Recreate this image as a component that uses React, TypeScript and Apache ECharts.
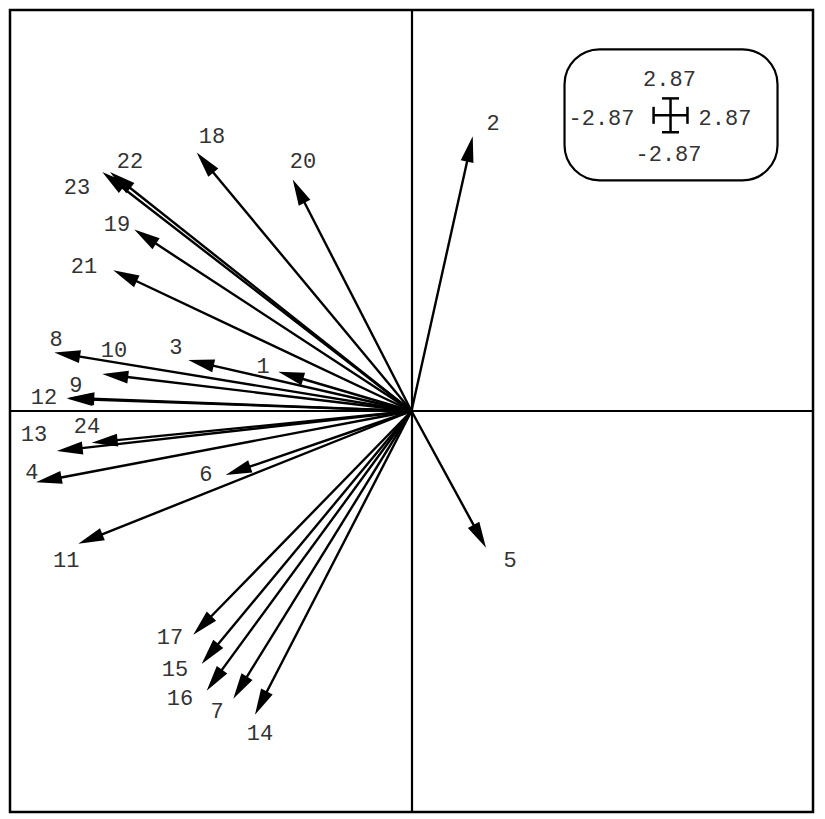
import React, { useEffect, useRef } from "react";
import * as echarts from "echarts";

// Variable names
const variables = [
  "1", "2", "3", "4", "5", "6", "7", "8", "9", "10", "11", "12",
  "13", "14", "15", "16", "17", "18", "19", "20", "21", "22", "23", "24",
];

// Arrow tips (coordinates of each variable)
const tipX = [
  -22.56, 10.37, -37.8, -63.6, 12.62, -31.47, -30.18, -60.5, -58.13, -52.37, -56.44, -58.4,
  -60.08, -26.51, -35.54, -34.69, -36.96, -36.38, -46.95, -20.12, -50.51, -51.07, -52.37, -54.17,
];
const tipY = [
  6.66, 46.58, 8.64, -12.08, -23.2, -10.84, -48.78, 9.94, 2.25, 6.27, -22.53, 2.1,
  -6.77, -51.49, -42.9, -47.43, -37.94, 43.82, 30.78, 39.24, 23.88, 40.53, 40.53, -5.37,
];

// Label anchor positions
const labelX = [
  -25.15, 13.8, -39.89, -64.28, 16.68, -34.81, -32.94, -60.21, -56.83, -50.39, -58.49, -62.25,
  -63.93, -25.66, -40.06, -39.21, -40.91, -33.79, -49.88, -18.38, -55.47, -47.68, -56.65, -54.96,
];
const labelY = [
  7.45, 48.61, 10.67, -10.67, -25.58, -11.01, -51.15, 12.03, 4.07, 10.16, -25.58, 2.2,
  -4.23, -54.88, -44.04, -48.95, -38.62, 46.41, 31.5, 42.17, 24.39, 42.17, 37.77, -2.88,
];

// Scale legend
const scaleValue = 2.87;
const scaleCenter = [43.87, 50.14];
const axisMin = -68;
const axisMax = 68;

const FONT = "22px 'Liberation Mono', 'DejaVu Sans Mono', monospace";

export default function App() {
  const ref = useRef<HTMLDivElement>(null);

  useEffect(() => {
    if (!ref.current) return;
    const chart = echarts.init(ref.current, undefined, { renderer: "svg" });

    const arrowData = variables.map((name, i) => ({ name, value: [tipX[i], tipY[i]] }));
    const labelData = variables.map((name, i) => ({ name, value: [labelX[i], labelY[i]] }));

    const option: any = {
      animation: false,
      backgroundColor: "#fff",
      grid: {
        left: 10,
        top: 10,
        right: 12,
        bottom: 7,
        show: true,
        borderColor: "#000",
        borderWidth: 2.5,
        backgroundColor: "transparent",
      },
      xAxis: {
        type: "value",
        min: axisMin,
        max: axisMax,
        axisLine: { show: true, onZero: true, lineStyle: { color: "#000", width: 2.2 } },
        axisTick: { show: false },
        axisLabel: { show: false },
        splitLine: { show: false },
      },
      yAxis: {
        type: "value",
        min: axisMin,
        max: axisMax,
        axisLine: { show: true, onZero: true, lineStyle: { color: "#000", width: 2.2 } },
        axisTick: { show: false },
        axisLabel: { show: false },
        splitLine: { show: false },
      },
      series: [
        {
          type: "custom",
          name: "arrows",
          data: arrowData,
          renderItem: (params: any, api: any) => {
            const o = api.coord([0, 0]);
            const p = api.coord([api.value(0), api.value(1)]);
            const dx = p[0] - o[0];
            const dy = p[1] - o[1];
            const len = Math.hypot(dx, dy) || 1;
            const ux = dx / len;
            const uy = dy / len;
            const L = 26;
            const W = 6.5;
            const bx = p[0] - ux * L;
            const by = p[1] - uy * L;
            return {
              type: "group",
              children: [
                {
                  type: "line",
                  shape: { x1: o[0], y1: o[1], x2: bx + ux * 3, y2: by + uy * 3 },
                  style: { stroke: "#000", lineWidth: 2.4 },
                },
                {
                  type: "polygon",
                  shape: {
                    points: [
                      [p[0], p[1]],
                      [bx - uy * W, by + ux * W],
                      [bx + uy * W, by - ux * W],
                    ],
                  },
                  style: { fill: "#000" },
                },
              ],
            };
          },
          z: 3,
        },
        {
          type: "custom",
          name: "labels",
          data: labelData,
          renderItem: (params: any, api: any) => {
            const p = api.coord([api.value(0), api.value(1)]);
            return {
              type: "text",
              style: {
                text: variables[params.dataIndex],
                x: p[0],
                y: p[1],
                align: "center",
                verticalAlign: "middle",
                font: FONT,
                fill: "#333",
              },
            };
          },
          z: 4,
        },
        {
          type: "custom",
          name: "scale",
          data: [{ value: [scaleCenter[0], scaleCenter[1], scaleValue] }],
          renderItem: (params: any, api: any) => {
            const c = api.coord([api.value(0), api.value(1)]);
            const s = api.size([api.value(2), api.value(2)]);
            const hx = s[0];
            const hy = s[1];
            const cap = 8.5;
            const txt = (t: string, x: number, y: number) => ({
              type: "text",
              style: {
                text: t,
                x,
                y,
                align: "center",
                verticalAlign: "middle",
                font: FONT,
                fill: "#333",
              },
            });
            const v = api.value(2).toFixed(2);
            const line = (x1: number, y1: number, x2: number, y2: number) => ({
              type: "line",
              shape: { x1, y1, x2, y2 },
              style: { stroke: "#000", lineWidth: 2.5 },
            });
            return {
              type: "group",
              children: [
                {
                  type: "rect",
                  shape: { x: c[0] - 106, y: c[1] - 66, width: 213, height: 131, r: 35 },
                  style: { fill: "#fff", stroke: "#000", lineWidth: 2.2 },
                },
                line(c[0] - hx, c[1], c[0] + hx, c[1]),
                line(c[0], c[1] - hy, c[0], c[1] + hy),
                line(c[0] - hx, c[1] - cap, c[0] - hx, c[1] + cap),
                line(c[0] + hx, c[1] - cap, c[0] + hx, c[1] + cap),
                line(c[0] - cap, c[1] - hy, c[0] + cap, c[1] - hy),
                line(c[0] - cap, c[1] + hy, c[0] + cap, c[1] + hy),
                txt(v, c[0] - 1, c[1] - 34.5),
                txt("-" + v, c[0] - 69, c[1] + 4.6),
                txt(v, c[0] + 54.5, c[1] + 4.6),
                txt("-" + v, c[0] - 2, c[1] + 40.5),
              ],
            };
          },
          z: 5,
        },
      ],
    };

    chart.setOption(option);
    return () => {
      chart.dispose();
    };
  }, []);

  return (
    <div
      ref={ref}
      style={{ position: "absolute", left: 0, top: 0, width: 825, height: 819 }}
    />
  );
}
